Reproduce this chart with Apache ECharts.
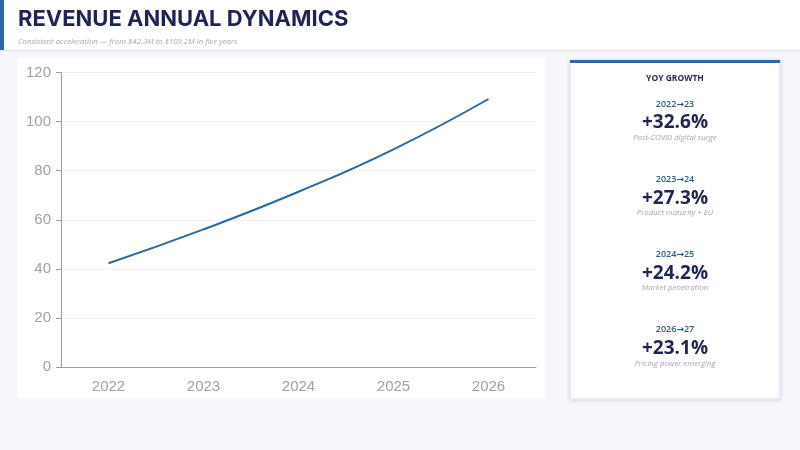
<!DOCTYPE html>
<html>
<head>
<meta charset="utf-8">
<script src="https://cdn.jsdelivr.net/npm/echarts@6/dist/echarts.min.js"></script>
<style>
html,body{margin:0;padding:0;background:#f6f7fc;}
#c{width:800px;height:450px;}
</style>
</head>
<body>
<div id="c"></div>
<script>
const years = ['2022', '2023', '2024', '2025', '2026'];
const revenue = [42.3, 56.1, 71.4, 88.7, 109.2];
const yTicks = [0, 20, 40, 60, 80, 100, 120];
const growthPeriods = ['2022→23', '2023→24', '2024→25', '2026→27'];
const growthValues = ['+32.6%', '+27.3%', '+24.2%', '+23.1%'];
const growthNotes = ['Post-COVID digital surge', 'Product maturity + EU', 'Market penetration', 'Pricing power emerging'];
const titleText = 'REVENUE ANNUAL DYNAMICS';
const subtitleText = 'Consistent acceleration — from $42.3M to $109.2M in five years';
const cardTitle = 'YOY GROWTH';

const chart = echarts.init(document.getElementById('c'));

const graphics = [
  {type:'rect', shape:{x:0,y:0,width:800,height:50}, style:{fill:'#ffffff'}, z:-10},
  {type:'rect', shape:{x:0,y:50,width:800,height:1}, style:{fill:'#dde1ec'}, z:-9},
  {type:'rect', shape:{x:0,y:0,width:4,height:50}, style:{fill:'#2a66a8'}, z:-8},
  {type:'text', x:18, y:8, style:{text:titleText, font:'bold 22px Inter, "Noto Sans", sans-serif', fill:'#1f2452'}},
  {type:'text', x:18, y:42, style:{text:subtitleText, font:'italic 7.8px "Open Sans", sans-serif', fill:'#a3a6b4', verticalAlign:'middle'}},
  {type:'rect', shape:{x:18,y:58,width:527,height:340}, style:{fill:'#ffffff'}, z:-10},
  {type:'rect', shape:{x:570,y:60,width:210,height:339}, style:{fill:'#ffffff', stroke:'#e3e6ef', lineWidth:1, shadowBlur:4, shadowColor:'rgba(40,50,90,0.15)', shadowOffsetY:1}, z:-10},
  {type:'rect', shape:{x:570,y:60,width:210,height:3}, style:{fill:'#2a66a8'}, z:-5},
  {type:'text', x:675, y:79, style:{text:cardTitle, font:'bold 8.5px "Open Sans", sans-serif', fill:'#2a2a50', align:'center', verticalAlign:'middle'}}
];
growthPeriods.forEach((p, i) => {
  const off = i * 75.3;
  graphics.push({type:'text', x:675, y:104 + off, style:{text:p, font:'600 9px "Open Sans", "DejaVu Sans", sans-serif', fill:'#2b5d78', align:'center', verticalAlign:'middle'}});
  graphics.push({type:'text', x:675, y:123 + off, style:{text:growthValues[i], font:'bold 19px "Open Sans", sans-serif', fill:'#1f2452', align:'center', verticalAlign:'middle'}});
  graphics.push({type:'text', x:675, y:137.5 + off, style:{text:growthNotes[i], font:'italic 7.8px "Open Sans", sans-serif', fill:'#a5a7b2', align:'center', verticalAlign:'middle'}});
});

chart.setOption({
  animation:false,
  graphic: graphics,
  grid:{left:61, top:72.5, right:264, bottom:83},
  xAxis:{
    type:'category', data:years, boundaryGap:true,
    axisLine:{lineStyle:{color:'#9a9aa2'}},
    axisTick:{lineStyle:{color:'#9a9aa2'}, length:5},
    axisLabel:{color:'#a0a1a9', fontSize:15, margin:12, fontFamily:'"Liberation Sans", Arial, sans-serif'}
  },
  yAxis:{
    type:'value', min:yTicks[0], max:yTicks[yTicks.length-1], interval:20,
    axisLine:{show:true, lineStyle:{color:'#9a9aa2'}},
    axisTick:{show:true, lineStyle:{color:'#9a9aa2'}, length:5},
    axisLabel:{color:'#a0a1a9', fontSize:15, margin:10, fontFamily:'"Liberation Sans", Arial, sans-serif'},
    splitLine:{lineStyle:{color:'#eef0f6'}}
  },
  series:[{
    type:'line', data:revenue, smooth:true, symbol:'none',
    lineStyle:{color:'#2a68a0', width:2}
  }]
});
</script>
</body>
</html>
